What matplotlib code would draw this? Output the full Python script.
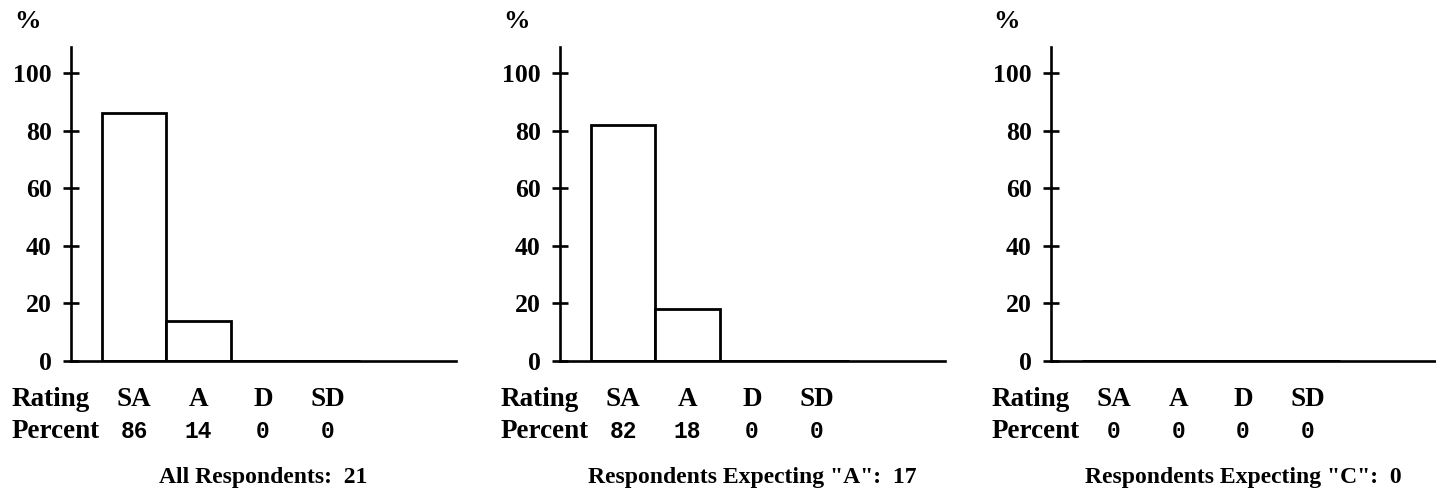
import matplotlib
matplotlib.use('Agg')
import matplotlib.pyplot as plt
from matplotlib.transforms import blended_transform_factory

plt.rc('font', family='Liberation Serif', weight='bold')

categories = ['SA', 'A', 'D', 'SD']
pct_all = [86, 14, 0, 0]
pct_expect_a = [82, 18, 0, 0]
pct_expect_c = [0, 0, 0, 0]
panel_values = [pct_all, pct_expect_a, pct_expect_c]
panel_titles = ['All Respondents:  21',
                'Respondents Expecting "A":  17',
                'Respondents Expecting "C":  0']
y_ticks = [0, 20, 40, 60, 80, 100]

W, H = 1436, 488
fig = plt.figure(figsize=(W / 100, H / 100), dpi=100)

# left edge (pixels) of each panel's y axis
axis_x = [71, 560, 1051]
ax_w, ax_bottom, ax_top = 385, 361, 47

for left, values, title in zip(axis_x, panel_values, panel_titles):
    ax = fig.add_axes([left / W, (H - ax_bottom) / H, ax_w / W, (ax_bottom - ax_top) / H])
    x_pos = list(range(len(categories)))
    ax.bar(x_pos, values, width=1.0, color='white', edgecolor='black', linewidth=2.0)
    ax.set_xlim(-0.977, -0.977 + ax_w / 64.5)
    ax.set_ylim(0, 109)
    for s in ['top', 'right']:
        ax.spines[s].set_visible(False)
    for s in ['left', 'bottom']:
        ax.spines[s].set_linewidth(1.9)
    ax.set_xticks([])
    ax.set_yticks(y_ticks)
    ax.tick_params(axis='y', direction='inout', length=12, width=1.9, pad=8, labelsize=18.5)
    for lab in ax.get_yticklabels():
        lab.set_fontweight('bold')

    # table under the axis
    tr = blended_transform_factory(ax.transData, ax.transAxes)
    ax.text(-59 / ax_w, -0.143, 'Rating', transform=ax.transAxes, fontsize=19.5,
            va='baseline', ha='left')
    ax.text(-59 / ax_w, -0.245, 'Percent', transform=ax.transAxes, fontsize=19.5,
            va='baseline', ha='left')
    for i, (cat, val) in enumerate(zip(categories, values)):
        ax.text(i, -0.143, cat, transform=tr, fontsize=19.5, ha='center', va='baseline')
        ax.text(i, -0.245, str(val), transform=tr, fontsize=16.5, ha='center', va='baseline',
                family='Liberation Mono', weight='bold')
    ax.text(2, -0.389, title, transform=tr, fontsize=17, ha='center', va='baseline')
    ax.text(-44 / ax_w, 1.08, '%', transform=ax.transAxes, fontsize=19, ha='center', va='center')

plt.savefig('out.png', dpi=100)
